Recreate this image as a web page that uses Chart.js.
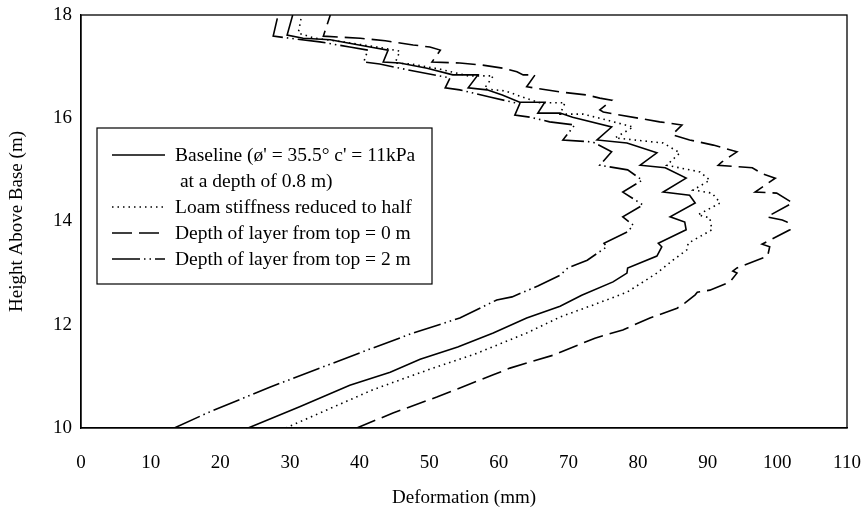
<!DOCTYPE html>
<html>
<head>
<meta charset="utf-8">
<script src="https://cdn.jsdelivr.net/npm/chart.js@4.4.1/dist/chart.umd.min.js"></script>
<style>
  html, body { margin: 0; padding: 0; background: #fff; }
  #wrap { width: 863px; height: 508px; }
</style>
</head>
<body>
<div id="wrap"><canvas id="chart" width="863" height="508"></canvas></div>
<script>
// deformation (mm) and height above base (m), bottom to top
var baselineX = [24.0, 31.4, 38.6, 44.4, 48.7, 54.1, 59.2, 64.0, 68.8, 71.9, 76.4, 78.4, 78.5, 82.7, 83.4, 82.9, 86.9, 86.7, 84.6, 88.2, 87.4, 83.6, 86.9, 83.9, 80.3, 82.7, 78.4, 74.1, 76.2, 70.6, 68.8, 65.6, 66.6, 63.0, 60.5, 58.3, 55.6, 57.0, 53.4, 49.7, 45.8, 43.4, 44.1, 41.5, 35.8, 31.9, 29.6, 30.4];
var baselineY = [10.0, 10.41, 10.83, 11.08, 11.33, 11.57, 11.84, 12.13, 12.36, 12.57, 12.83, 13.0, 13.10, 13.33, 13.51, 13.58, 13.84, 13.99, 14.09, 14.36, 14.51, 14.57, 14.84, 15.04, 15.09, 15.33, 15.52, 15.58, 15.83, 16.02, 16.10, 16.10, 16.31, 16.31, 16.45, 16.55, 16.59, 16.84, 16.84, 16.97, 17.07, 17.09, 17.32, 17.38, 17.52, 17.55, 17.61, 18.0];

var loamX = [29.4, 35.3, 41.9, 49.7, 56.9, 64.0, 68.8, 73.5, 78.4, 82.7, 85.0, 87.0, 87.2, 90.6, 90.3, 88.6, 91.8, 90.6, 87.9, 90.3, 88.9, 84.1, 86.0, 83.6, 76.7, 79.3, 74.5, 72.1, 68.8, 69.5, 65.9, 63.0, 60.9, 57.9, 59.2, 55.6, 51.6, 47.5, 45.1, 45.8, 43.4, 37.6, 33.6, 31.2, 31.7];
var loamY = [10.0, 10.35, 10.74, 11.12, 11.45, 11.84, 12.15, 12.38, 12.63, 13.0, 13.25, 13.45, 13.58, 13.84, 14.07, 14.13, 14.36, 14.55, 14.61, 14.80, 14.96, 15.09, 15.33, 15.52, 15.62, 15.83, 16.0, 16.08, 16.08, 16.30, 16.30, 16.43, 16.53, 16.57, 16.82, 16.82, 16.95, 17.05, 17.07, 17.30, 17.36, 17.48, 17.55, 17.65, 18.0];

var layer0X = [39.6, 44.8, 51.1, 59.2, 61.6, 67.8, 73.8, 77.8, 81.7, 85.6, 86.7, 88.2, 88.5, 90.3, 93.2, 94.2, 93.6, 94.2, 98.6, 98.9, 97.8, 101.8, 101.4, 100.7, 98.5, 102.2, 99.9, 96.8, 99.7, 97.9, 96.4, 91.5, 92.0, 94.2, 90.8, 87.4, 84.9, 86.3, 83.1, 75.0, 74.5, 76.2, 74.5, 72.7, 68.8, 64.0, 65.2, 63.5, 62.6, 60.6, 57.6, 54.4, 50.4, 51.6, 50.1, 47.7, 43.7, 40.1, 34.8, 35.8];
var layer0Y = [10.0, 10.29, 10.60, 11.03, 11.16, 11.41, 11.74, 11.90, 12.13, 12.32, 12.42, 12.58, 12.63, 12.67, 12.83, 13.0, 13.04, 13.10, 13.33, 13.51, 13.56, 13.84, 13.99, 14.03, 14.09, 14.36, 14.55, 14.57, 14.84, 14.92, 15.04, 15.09, 15.15, 15.35, 15.48, 15.58, 15.68, 15.87, 15.93, 16.12, 16.16, 16.35, 16.39, 16.45, 16.51, 16.61, 16.84, 16.84, 16.90, 16.97, 17.03, 17.07, 17.09, 17.32, 17.38, 17.42, 17.50, 17.55, 17.59, 18.0];

var layer2X = [13.4, 18.1, 27.1, 34.3, 41.1, 47.7, 54.4, 59.7, 61.9, 65.6, 68.8, 69.9, 72.7, 75.5, 75.1, 78.5, 79.3, 77.8, 80.7, 77.8, 80.6, 78.5, 74.5, 76.2, 73.5, 69.2, 70.9, 67.3, 64.5, 62.3, 63.0, 58.7, 54.4, 52.3, 53.0, 47.2, 42.9, 40.6, 41.2, 38.6, 34.3, 30.0, 27.6, 28.3];
var layer2Y = [10.0, 10.29, 10.79, 11.16, 11.51, 11.84, 12.13, 12.48, 12.54, 12.75, 12.96, 13.10, 13.25, 13.51, 13.58, 13.80, 13.93, 14.09, 14.32, 14.57, 14.80, 15.0, 15.09, 15.35, 15.54, 15.58, 15.87, 15.93, 16.02, 16.06, 16.28, 16.41, 16.55, 16.59, 16.78, 16.93, 17.05, 17.09, 17.32, 17.38, 17.48, 17.55, 17.59, 18.0];

var xTicks = [0, 10, 20, 30, 40, 50, 60, 70, 80, 90, 100, 110];
var yTicks = [10, 12, 14, 16, 18];

var seriesNames = ['Baseline (\u00f8\' = 35.5\u00b0 c\' = 11kPa', 'Loam stiffness reduced to half', 'Depth of layer from top = 0 m', 'Depth of layer from top = 2 m'];
var baselineNote = ' at a depth of 0.8 m)';

function pairs(xs, ys) {
  return xs.map(function (x, i) { return { x: x, y: ys[i] }; });
}

var FONT = "'Liberation Serif', 'Times New Roman', serif";

var frameAndLegend = {
  id: 'frameAndLegend',
  afterDraw: function (chart) {
    var ctx = chart.ctx;
    var a = chart.chartArea;
    ctx.save();
    ctx.strokeStyle = '#000';
    ctx.lineWidth = 1.3;
    ctx.strokeRect(a.left, a.top, a.right - a.left, a.bottom - a.top);

    // legend box
    var bx = 97, by = 128, bw = 335, bh = 156;
    ctx.fillStyle = '#fff';
    ctx.fillRect(bx, by, bw, bh);
    ctx.lineWidth = 1.2;
    ctx.strokeRect(bx, by, bw, bh);
    ctx.font = '19.5px ' + FONT;
    ctx.fillStyle = '#000';
    ctx.textBaseline = 'alphabetic';
    var rows = [161, 213, 239, 265];
    chart.data.datasets.forEach(function (ds, i) {
      var y = rows[i] - 6;
      ctx.beginPath();
      ctx.setLineDash(ds.borderDash || []);
      ctx.lineWidth = ds.borderWidth;
      ctx.strokeStyle = '#000';
      ctx.moveTo(112, y);
      ctx.lineTo(165, y);
      ctx.stroke();
      ctx.setLineDash([]);
      ctx.fillText(seriesNames[i], 175, rows[i]);
    });
    ctx.fillText(baselineNote, 175, 187);
    ctx.restore();
  }
};

var common = { showLine: true, pointRadius: 0, borderColor: '#000', backgroundColor: '#000', fill: false, tension: 0 };

new Chart(document.getElementById('chart'), {
  type: 'scatter',
  data: {
    datasets: [
      Object.assign({ label: seriesNames[0], data: pairs(baselineX, baselineY), borderWidth: 1.6, borderDash: [] }, common),
      Object.assign({ label: seriesNames[1], data: pairs(loamX, loamY), borderWidth: 1.6, borderDash: [1.5, 4] }, common),
      Object.assign({ label: seriesNames[2], data: pairs(layer0X, layer0Y), borderWidth: 1.6, borderDash: [20, 7] }, common),
      Object.assign({ label: seriesNames[3], data: pairs(layer2X, layer2Y), borderWidth: 1.6, borderDash: [28, 4, 1.5, 4, 1.5, 4] }, common)
    ]
  },
  options: {
    responsive: false,
    animation: false,
    layout: { padding: { left: 0, right: 16, top: 15, bottom: 0 } },
    plugins: { legend: { display: false }, tooltip: { enabled: false } },
    scales: {
      x: {
        type: 'linear', min: 0, max: 110,
        afterBuildTicks: function (s) { s.ticks = xTicks.map(function (v) { return { value: v }; }); },
        afterFit: function (s) { s.height = 80; s.paddingLeft = 0; s.paddingRight = 0; },
        grid: { display: false, drawTicks: true, tickLength: 6, tickColor: '#000' },
        border: { display: true, color: '#000', width: 1.3 },
        ticks: { color: '#000', font: { family: FONT, size: 19 }, padding: 18, maxRotation: 0 },
        title: { display: true, text: 'Deformation (mm)', color: '#000', font: { family: FONT, size: 19 }, padding: { top: 10, bottom: -1 } }
      },
      y: {
        type: 'linear', min: 10, max: 18,
        afterBuildTicks: function (s) { s.ticks = yTicks.map(function (v) { return { value: v }; }); },
        afterFit: function (s) { s.width = 81; s.paddingTop = 0; s.paddingBottom = 0; },
        grid: { display: false, drawTicks: true, tickLength: 6, tickColor: '#000' },
        border: { display: true, color: '#000', width: 1.3 },
        ticks: { color: '#000', font: { family: FONT, size: 19 }, padding: 3 },
        title: { display: true, text: 'Height Above Base (m)', color: '#000', font: { family: FONT, size: 19 }, padding: { top: 6, bottom: 0 } }
      }
    }
  },
  plugins: [frameAndLegend]
});
</script>
</body>
</html>
